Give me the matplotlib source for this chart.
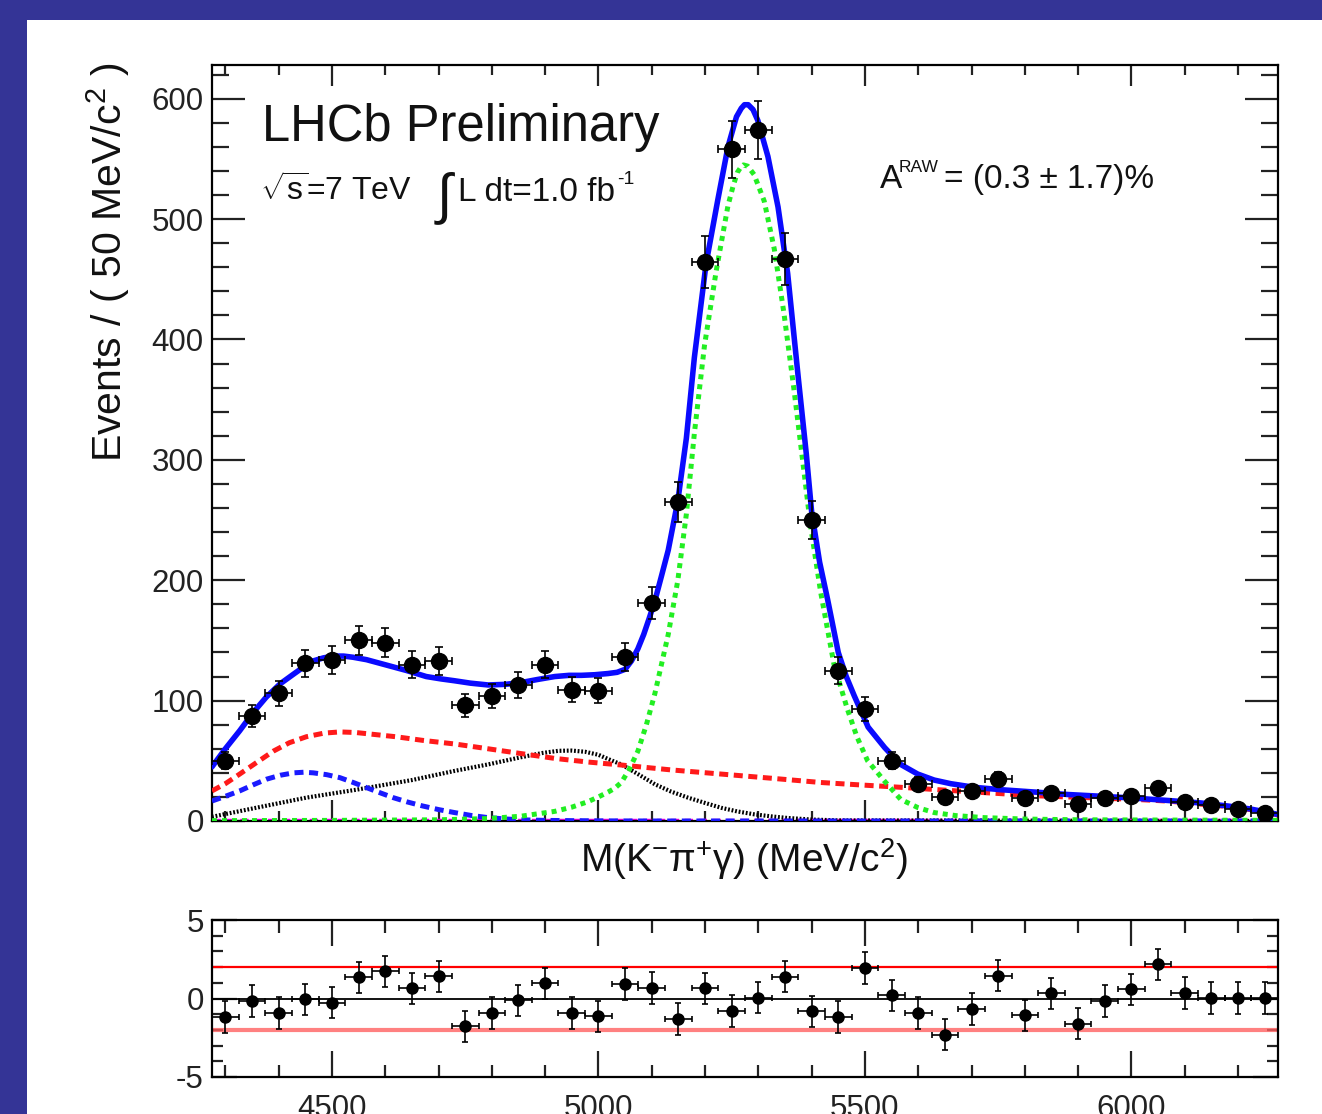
import numpy as np
import matplotlib
matplotlib.use("Agg")
import matplotlib.pyplot as plt
from matplotlib.patches import Rectangle
from matplotlib.ticker import MultipleLocator, FixedLocator

# ================= DATA =================
BIN_CENTERS = [4300, 4350, 4400, 4450, 4500, 4550, 4600, 4650, 4700, 4750,
               4800, 4850, 4900, 4950, 5000, 5050, 5100, 5150, 5200, 5250,
               5300, 5350, 5400, 5450, 5500, 5550, 5600, 5650, 5700, 5750,
               5800, 5850, 5900, 5950, 6000, 6050, 6100, 6150, 6200, 6250]
COUNTS = [50, 87, 106, 131, 134, 150, 148, 130, 133, 96,
          104, 113, 130, 109, 108, 136, 181, 265, 464, 558,
          574, 467, 250, 125, 93, 50, 31, 20, 25, 35,
          19, 23, 14, 19, 21, 27, 16, 13, 10, 7]
PULLS = [-1.18, -0.15, -0.92, -0.06, -0.26, 1.35, 1.73, 0.64, 1.41, -1.77,
         -0.92, -0.11, 0.96, -0.92, -1.13, 0.92, 0.68, -1.30, 0.64, -0.79,
         0.06, 1.39, -0.81, -1.18, 1.94, 0.21, -0.92, -2.31, -0.68, 1.45,
         -1.07, 0.32, -1.60, -0.17, 0.58, 2.18, 0.36, 0.03, 0.03, 0.03]
BIN_HALF_WIDTH = 25

# fit curves
TOTAL_X = [4275, 4300, 4327, 4352, 4377, 4403, 4428, 4447, 4465, 4484, 4503,
           4522, 4540, 4565, 4590, 4615, 4640, 4677, 4705, 4730, 4760, 4793,
           4825, 4855, 4885, 4918, 4945, 4968, 4993, 5018, 5035, 5050, 5062,
           5074, 5085, 5095, 5106, 5118, 5131, 5149, 5165, 5180, 5202, 5224,
           5243, 5259, 5268, 5274, 5281, 5290, 5299, 5318, 5337, 5355, 5375,
           5390, 5400, 5415, 5430, 5450, 5465, 5480, 5506, 5537, 5567, 5599,
           5630, 5661, 5705, 5755, 5820, 5881, 5945, 6006, 6070, 6130, 6180,
           6223, 6275]
TOTAL_Y = [45, 60, 75, 90, 103, 114, 122, 128, 133, 135.5, 137,
           137, 136, 134, 131, 128, 125, 120, 118, 116.5, 114.5, 113,
           113.5, 115, 117.5, 120, 121, 121, 121.5, 122.5, 123.5, 126, 133,
           143, 155, 168, 183, 203, 225, 266, 318, 385, 463, 516,
           560, 585, 592, 595, 595, 591, 582, 552, 510, 455, 368,
           305, 257, 215, 184, 140, 120, 104, 78, 61, 47, 39,
           34, 31, 28, 26, 24, 22, 20.5, 19, 17, 15, 12.5,
           10, 5.5]

COMB_X = [4275, 4300, 4327, 4360, 4390, 4420, 4452, 4485, 4515, 4545, 4577,
          4620, 4670, 4730, 4793, 4855, 4918, 4980, 5043, 5135, 5230, 5325,
          5417, 5490, 5567, 5690, 5818, 5910, 6005, 6070, 6130, 6180, 6223,
          6275]
COMB_Y = [25, 31, 39, 49, 58, 65, 70, 73, 74, 73.5, 72,
          70, 67, 64, 60, 56, 52, 49, 46.5, 42.5, 39, 35.5,
          32, 30, 28, 24.5, 21, 19.5, 18, 16.5, 14, 12, 9.5,
          5]

PARTREC_X = [4275, 4300, 4327, 4352, 4377, 4403, 4428, 4447, 4465, 4490,
             4515, 4540, 4565, 4590, 4615, 4640, 4670, 4700, 4730, 4760,
             4793, 4825, 4855, 4900, 4950, 5020, 5100, 6275]
PARTREC_Y = [16.6, 20.5, 25, 30, 34.7, 38, 40, 40.5, 40, 38.5,
             36, 32, 27.7, 23.5, 19.4, 16, 12.5, 9.5, 7, 4.7,
             2.8, 1.7, 1, 0.5, 0.3, 0.1, 0, 0]

PEAKBKG_X = [4275, 4358, 4452, 4546, 4650, 4730, 4793, 4855, 4895, 4925,
             4950, 4975, 5000, 5018, 5043, 5074, 5106, 5136, 5168, 5200,
             5230, 5260, 5293, 5325, 5355, 5400, 5450, 6275]
PEAKBKG_Y = [3.5, 11, 19.4, 26, 34, 41.6, 47, 53, 56.5, 58.3,
             58.5, 57.5, 55, 51.5, 47, 39, 30.5, 24.5, 19.4, 15,
             11, 8, 5.5, 3.8, 2.5, 1.2, 0.5, 0]

SIGNAL_X = [4275, 4500, 4700, 4793, 4855, 4918, 4950, 4980, 5000, 5018,
            5030, 5043, 5058, 5074, 5090, 5106, 5131, 5149, 5165, 5180,
            5199, 5221, 5243, 5253, 5261, 5267, 5272, 5280, 5292, 5311,
            5330, 5348, 5367, 5383, 5398, 5417, 5442, 5467, 5485, 5505,
            5537, 5567, 5600, 5630, 5670, 5724, 5800, 5900, 6275]
SIGNAL_Y = [0.3, 0.5, 1, 2, 4, 8, 11.5, 16, 20, 24,
            27, 32, 43, 58, 80, 106, 155, 200, 255, 322,
            395, 457, 511, 528, 539, 543, 545, 544, 537, 515,
            475, 422, 358, 300, 245, 190, 130, 93, 70, 50,
            33, 18, 11, 7, 4.5, 2.8, 1.6, 1, 0.5]

OTHER_X = [4275, 6275]
OTHER_Y = [0.6, 0.6]

PULL_LINES = [2, -2]
XLIM = (4275, 6275)
YLIM = (0, 628)
# =========================================

W, H = 1322, 1114
BORDER = '#343496'
INK = '#111111'

plt.rcParams['font.family'] = ['Liberation Sans', 'DejaVu Sans']
plt.rcParams['mathtext.fontset'] = 'custom'
plt.rcParams['mathtext.rm'] = 'Liberation Sans'
plt.rcParams['mathtext.it'] = 'Liberation Sans:italic'
plt.rcParams['mathtext.sf'] = 'Liberation Sans'
plt.rcParams['axes.unicode_minus'] = False
plt.rcParams['lines.scale_dashes'] = False


def fx(x):
    return x / W


def fy(y):
    return 1 - y / H


fig = plt.figure(figsize=(W / 100, H / 100), dpi=100, facecolor=BORDER)
fig.add_artist(Rectangle((fx(27), 0), 1, fy(20), transform=fig.transFigure,
                         facecolor='white', edgecolor='none', zorder=-5))

ax = fig.add_axes([fx(212), fy(821), fx(1278 - 212), (821 - 65) / H])
axp = fig.add_axes([fx(212), fy(1077), fx(1278 - 212), (1077 - 920) / H])

# --- main plot ---
ax.plot(OTHER_X, OTHER_Y, color='#ee00ee', lw=2.5, ls=(0, (6, 4)), zorder=2)
ax.plot(PEAKBKG_X, PEAKBKG_Y, color='black', lw=3.0, ls=(0, (1.3, 1.3)), zorder=3)
ax.plot(PARTREC_X, PARTREC_Y, color='#1a1aff', lw=3.6, ls=(0, (6.5, 4)), zorder=3)
ax.plot(COMB_X, COMB_Y, color='#ff1a1a', lw=3.6, ls=(0, (6.5, 4)), zorder=3)
ax.plot(SIGNAL_X, SIGNAL_Y, color='#22ee22', lw=3.6, ls=(0, (3.6, 3.6)), zorder=3)
ax.plot(TOTAL_X, TOTAL_Y, color='#0a0aff', lw=4.0, solid_joinstyle='round',
        solid_capstyle='round', zorder=4)

counts = np.array(COUNTS, dtype=float)
ax.errorbar(BIN_CENTERS, counts, yerr=np.sqrt(counts), xerr=BIN_HALF_WIDTH,
            fmt='o', color='black', ms=11.5, elinewidth=1.2, capsize=3,
            capthick=1.2, zorder=6)

ax.set_xlim(*XLIM)
ax.set_ylim(*YLIM)
ax.xaxis.set_major_locator(MultipleLocator(500))
ax.xaxis.set_minor_locator(MultipleLocator(100))
ax.yaxis.set_major_locator(MultipleLocator(100))
ax.yaxis.set_minor_locator(MultipleLocator(20))
ax.tick_params(axis='both', which='both', direction='in', top=True, right=True,
               width=1.6, colors='#222222')
ax.tick_params(axis='x', which='major', length=15, labelbottom=False)
ax.tick_params(axis='x', which='minor', length=7.5)
ax.tick_params(axis='y', which='major', length=23.5, labelsize=22.5, pad=6)
ax.tick_params(axis='y', which='minor', length=12)
for s in ax.spines.values():
    s.set_linewidth(1.6)

# --- pull plot ---
axp.axhline(0, color='black', lw=1.3, zorder=2)
axp.axhline(PULL_LINES[0], color='#ff0000', lw=1.6, zorder=2)
axp.axhline(PULL_LINES[1], color='#ff6060', lw=3.0, alpha=0.8, zorder=2)
axp.errorbar(BIN_CENTERS, PULLS, yerr=1, xerr=BIN_HALF_WIDTH, fmt='o',
             color='black', ms=8, elinewidth=1.2, capsize=2.5, capthick=1.2,
             zorder=5)
axp.set_xlim(*XLIM)
axp.set_ylim(-5, 5)
axp.xaxis.set_major_locator(MultipleLocator(500))
axp.xaxis.set_minor_locator(MultipleLocator(100))
axp.yaxis.set_major_locator(FixedLocator([-5, 0, 5]))
axp.yaxis.set_minor_locator(MultipleLocator(1))
axp.tick_params(axis='both', which='both', direction='in', top=True, right=True,
                width=1.6, colors='#222222')
axp.tick_params(axis='x', which='major', length=19, labelsize=22.5, pad=12)
axp.tick_params(axis='x', which='minor', length=9)
axp.tick_params(axis='y', which='major', length=18, labelsize=22.5, pad=6)
axp.tick_params(axis='y', which='minor', length=8)
for s in axp.spines.values():
    s.set_linewidth(1.6)

# --- texts ---
fig.text(fx(108), fy(62), r'Events / ( 50 MeV/c$^{2}$ )', rotation=90,
         ha='center', va='top', fontsize=29.5, color=INK)
fig.text(fx(744), fy(872), r'M(K$^{-}\mathrm{\pi}^{+}\mathrm{\gamma}$) (MeV/c$^{2}$)',
         ha='center', va='baseline', fontsize=28, color=INK)
fig.text(fx(262), fy(141), 'LHCb Preliminary', fontsize=36.5, va='baseline',
         color=INK)
fig.text(fx(260), fy(201), r'$\sqrt{\mathrm{s}}$=7 TeV', fontsize=23,
         va='baseline', color=INK)
fig.text(fx(437), fy(212), '\u222b', fontsize=40, va='baseline', color=INK)
lumi = fig.text(fx(458), fy(201), 'L dt=1.0 fb', fontsize=24, va='baseline',
                color=INK)
fig.text(fx(880), fy(188), 'A', fontsize=24, va='baseline', color=INK)
fig.text(fx(899), fy(172), 'RAW', fontsize=12.5, va='baseline', color=INK)
fig.text(fx(944), fy(188), '= (0.3 \u00b1 1.7)%', fontsize=24, va='baseline',
         color=INK)

# superscript "-1" placed right after "fb"
fig.canvas.draw()
bb = lumi.get_window_extent()
fig.text(bb.x1 / W + fx(2), fy(184), '-1', fontsize=14, va='baseline', color=INK)

fig.savefig('out.png', dpi=100, facecolor=BORDER)
